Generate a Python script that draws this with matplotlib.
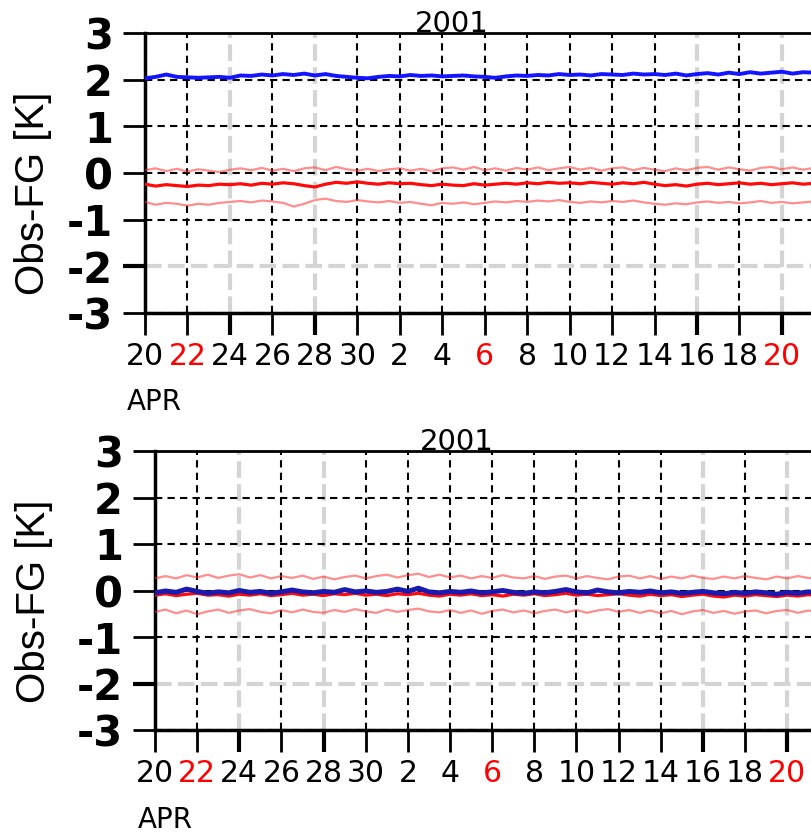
import numpy as np
import pandas as pd
import matplotlib
matplotlib.use('Agg')
import matplotlib.pyplot as plt

# 12-hourly samples starting 2001-04-20 00 UTC
start = '2001-04-20'

top_blue = [2.03, 2.06, 2.11, 2.06, 2.05, 2.04, 2.05, 2.06, 2.04, 2.09, 2.08, 2.11, 2.09, 2.12, 2.10, 2.13,
            2.09, 2.12, 2.08, 2.06, 2.04, 2.03, 2.06, 2.08, 2.07, 2.10, 2.08, 2.09, 2.07, 2.08, 2.09, 2.07,
            2.06, 2.04, 2.07, 2.09, 2.08, 2.10, 2.09, 2.12, 2.10, 2.11, 2.09, 2.12, 2.11, 2.10, 2.13, 2.11,
            2.12, 2.10, 2.13, 2.09, 2.12, 2.14, 2.11, 2.15, 2.12, 2.16, 2.13, 2.15, 2.17, 2.13, 2.16, 2.15]
top_red_hi = [0.06, 0.10, 0.04, 0.09, 0.03, 0.08, 0.05, 0.02, 0.07, 0.10, 0.06, 0.11, 0.05, 0.09, 0.04, 0.10,
              0.12, 0.06, 0.13, 0.08, 0.05, 0.09, 0.04, 0.08, 0.10, 0.05, 0.09, 0.04, 0.10, 0.12, 0.07, 0.13,
              0.06, 0.10, 0.05, 0.11, 0.07, 0.12, 0.06, 0.10, 0.13, 0.07, 0.11, 0.05, 0.10, 0.12, 0.06, 0.11,
              0.07, 0.04, 0.10, 0.06, 0.11, 0.13, 0.07, 0.12, 0.08, 0.05, 0.11, 0.13, 0.08, 0.12, 0.07, 0.11]
top_red_mid = [-0.24, -0.28, -0.25, -0.27, -0.29, -0.26, -0.27, -0.24, -0.25, -0.23, -0.26, -0.22, -0.24, -0.21, -0.23, -0.27,
               -0.30, -0.24, -0.20, -0.22, -0.19, -0.22, -0.24, -0.21, -0.23, -0.22, -0.25, -0.27, -0.24, -0.26, -0.27, -0.23,
               -0.26, -0.24, -0.22, -0.24, -0.21, -0.23, -0.20, -0.22, -0.21, -0.23, -0.20, -0.22, -0.24, -0.21, -0.23, -0.20,
               -0.24, -0.27, -0.25, -0.28, -0.24, -0.22, -0.25, -0.23, -0.21, -0.24, -0.22, -0.25, -0.23, -0.21, -0.24, -0.22]
top_red_lo = [-0.62, -0.68, -0.64, -0.66, -0.70, -0.66, -0.68, -0.64, -0.62, -0.60, -0.63, -0.59, -0.61, -0.64, -0.72, -0.66,
              -0.58, -0.55, -0.60, -0.62, -0.58, -0.61, -0.63, -0.60, -0.64, -0.62, -0.66, -0.69, -0.64, -0.66, -0.63, -0.67,
              -0.64, -0.61, -0.63, -0.60, -0.62, -0.59, -0.61, -0.58, -0.62, -0.64, -0.61, -0.63, -0.60, -0.62, -0.59, -0.63,
              -0.66, -0.68, -0.65, -0.67, -0.63, -0.61, -0.64, -0.62, -0.65, -0.63, -0.60, -0.64, -0.62, -0.65, -0.63, -0.61]

bot_blue = [-0.05, -0.01, -0.04, 0.03, -0.02, -0.06, -0.03, -0.05, 0.00, -0.04, -0.02, -0.06, -0.03, 0.01, -0.03, -0.05,
            -0.02, -0.04, 0.02, -0.03, -0.01, -0.04, -0.02, 0.03, -0.02, 0.05, -0.03, -0.05, -0.02, -0.04, -0.01, -0.05,
            -0.03, 0.00, -0.04, -0.06, -0.03, -0.05, -0.02, 0.02, -0.03, -0.05, 0.01, -0.03, -0.05, -0.02, -0.04, -0.01,
            -0.05, -0.03, -0.06, -0.04, -0.02, -0.05, -0.07, -0.04, -0.06, -0.03, -0.05, -0.08, -0.04, -0.06, -0.03, -0.05]
bot_red_hi = [0.26, 0.31, 0.26, 0.33, 0.28, 0.34, 0.27, 0.32, 0.35, 0.28, 0.33, 0.26, 0.31, 0.27, 0.32, 0.25,
              0.30, 0.24, 0.29, 0.32, 0.26, 0.31, 0.34, 0.28, 0.33, 0.36, 0.29, 0.34, 0.28, 0.32, 0.26, 0.31,
              0.27, 0.33, 0.28, 0.26, 0.31, 0.25, 0.30, 0.32, 0.26, 0.31, 0.27, 0.24, 0.30, 0.32, 0.26, 0.31,
              0.25, 0.30, 0.26, 0.32, 0.27, 0.25, 0.30, 0.26, 0.31, 0.27, 0.24, 0.30, 0.26, 0.31, 0.27, 0.25]
bot_red_mid = [-0.10, -0.07, -0.11, -0.08, -0.06, -0.10, -0.09, -0.12, -0.08, -0.10, -0.07, -0.11, -0.09, -0.06, -0.10, -0.08,
               -0.11, -0.07, -0.09, -0.06, -0.10, -0.08, -0.11, -0.07, -0.09, -0.06, -0.10, -0.12, -0.08, -0.10, -0.07, -0.11,
               -0.09, -0.12, -0.08, -0.10, -0.07, -0.11, -0.09, -0.06, -0.10, -0.08, -0.11, -0.09, -0.07, -0.10, -0.12, -0.08,
               -0.11, -0.09, -0.13, -0.10, -0.08, -0.12, -0.14, -0.10, -0.12, -0.09, -0.11, -0.13, -0.10, -0.12, -0.09, -0.11]
bot_red_lo = [-0.46, -0.41, -0.49, -0.43, -0.51, -0.45, -0.41, -0.48, -0.43, -0.40, -0.46, -0.49, -0.42, -0.47, -0.41, -0.46,
              -0.48, -0.42, -0.46, -0.40, -0.45, -0.48, -0.41, -0.46, -0.42, -0.39, -0.45, -0.47, -0.42, -0.48, -0.43, -0.50,
              -0.44, -0.41, -0.47, -0.43, -0.49, -0.44, -0.41, -0.47, -0.42, -0.48, -0.43, -0.40, -0.46, -0.42, -0.48, -0.43,
              -0.49, -0.44, -0.51, -0.45, -0.42, -0.48, -0.44, -0.50, -0.45, -0.43, -0.49, -0.44, -0.42, -0.48, -0.43, -0.47]

tick_dates = pd.date_range('2001-04-20', '2001-05-20', freq='2D')
tick_labels = ['20', '22', '24', '26', '28', '30', '2', '4', '6', '8', '10', '12', '14', '16', '18', '20']
red_labels = [1, 8, 15]      # sundays
gray_x = [2, 4, 13, 15]      # grid lines that come out gray in the picture
y_ticks = [3, 2, 1, 0, -1, -2, -3]


def times(vals):
    return pd.date_range(start, periods=len(vals), freq='12h')


def panel(ax, blue, hi, mid, lo, days, blue_col, blue_lw):
    t0 = pd.Timestamp(start)
    ax.set_xlim(t0, t0 + pd.Timedelta(days=days))
    ax.set_ylim(-3, 3)
    # grid
    dash = (0, (3.5, 2.5))
    for i, d in enumerate(tick_dates):
        if i in gray_x:
            ax.axvline(d, color='#d4d4d4', lw=3, ls=(0, (4, 1.5)), zorder=0)
        else:
            ax.axvline(d, color='black', lw=1.5, ls=dash, zorder=1)
    for y in y_ticks:
        if y == -2:
            ax.axhline(y, color='#d4d4d4', lw=3, ls=(0, (4, 1.5)), zorder=0)
        else:
            ax.axhline(y, color='black', lw=1.5, ls=dash, zorder=1)
    ax.plot(times(hi), hi, color='#ff3030', lw=1.6, alpha=0.55, zorder=3)
    ax.plot(times(lo), lo, color='#ff3030', lw=1.6, alpha=0.55, zorder=3)
    ax.plot(times(mid), mid, color='#ff0a0a', lw=2.3, zorder=3)
    ax.plot(times(blue), blue, color=blue_col, lw=blue_lw, zorder=4)

    ax.set_xticks(tick_dates)
    ax.set_xticklabels(tick_labels, fontsize=21.5, family='DejaVu Sans')
    for i, lab in enumerate(ax.get_xticklabels()):
        if i in red_labels:
            lab.set_color('red')
    ax.set_yticks(y_ticks)
    ax.set_yticklabels([str(v) for v in y_ticks], fontsize=30, fontweight='bold', family='DejaVu Sans')
    ax.tick_params(axis='both', direction='out', length=16, width=2)
    ax.tick_params(axis='x', pad=5)
    ax.tick_params(axis='y', pad=7)
    for i, tk in enumerate(ax.xaxis.get_major_ticks()):
        if i in gray_x:
            tk.tick1line.set_color('#8a8a8a')
            tk.tick1line.set_markeredgewidth(3)
    ax.yaxis.get_major_ticks()[5].tick1line.set_color('#777777')
    ax.yaxis.get_major_ticks()[5].tick1line.set_markeredgewidth(3)
    ax.spines['right'].set_visible(False)
    ax.spines['left'].set_linewidth(2.5)
    ax.spines['bottom'].set_linewidth(2.5)
    ax.spines['top'].set_linewidth(2)
    ax.text(0.46, 1.005, '2001', transform=ax.transAxes, ha='center', va='baseline',
            fontsize=21, family='DejaVu Sans')


fig = plt.figure(figsize=(8.11, 8.35), dpi=100)
W, H = 811.0, 835.0

ax1 = fig.add_axes([145 / W, 1 - 313 / H, 1 - 145 / W, 280 / H])
panel(ax1, top_blue, top_red_hi, top_red_mid, top_red_lo, 31.37, '#1414ff', 2.8)
ax2 = fig.add_axes([155 / W, 1 - 730 / H, 1 - 155 / W, 279 / H])
panel(ax2, bot_blue, bot_red_hi, bot_red_mid, bot_red_lo, 31.13, '#1a1ab0', 3.6)

fig.text(33 / W, 1 - 193 / H, 'Obs-FG [K]', rotation=90, ha='center', va='center',
         fontsize=29, family='Liberation Sans')
fig.text(34 / W, 1 - 601 / H, 'Obs-FG [K]', rotation=90, ha='center', va='center',
         fontsize=29, family='Liberation Sans')
fig.text(127 / W, 1 - 410 / H, 'APR', ha='left', va='baseline', fontsize=20, family='DejaVu Sans')
fig.text(138 / W, 1 - 828 / H, 'APR', ha='left', va='baseline', fontsize=20, family='DejaVu Sans')

fig.savefig('out.png', dpi=100)
